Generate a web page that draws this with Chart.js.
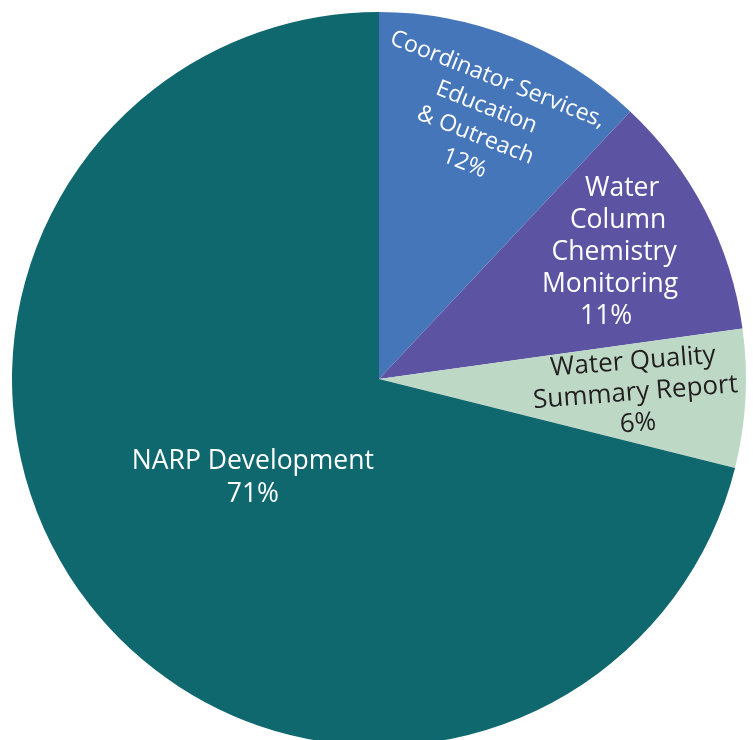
<!DOCTYPE html>
<html>
<head>
<meta charset="utf-8">
<script src="https://cdn.jsdelivr.net/npm/chart.js@4"></script>
<style>
html,body{margin:0;padding:0;background:#fff;overflow:hidden;}
#wrap{position:absolute;left:0;top:0;width:758px;height:758px;}
</style>
</head>
<body>
<div id="wrap"><canvas id="c"></canvas></div>
<script>
const categories = [
  ["Coordinator Services,", "Education", "& Outreach"],
  ["Water", "Column", "Chemistry", "Monitoring"],
  ["Water Quality", "Summary Report"],
  ["NARP Development"]
];
// slice sizes (printed labels are rounded)
const values = [12.0, 10.8, 6.1, 71.1];
const percentLabels = ["12%", "11%", "6%", "71%"];
const colors = ["#4676BA", "#5C54A3", "#BDD9C5", "#0F686E"];
const textColors = ["#FFFFFF", "#FFFFFF", "#231F20", "#FFFFFF"];

// label placement style: radial fraction, angle offset (deg), rotation, font size, line height, per-line shift
const labelStyle = [
  {r: 0.755, da: 0, rot: "tangent", size: 23, lh: 30, shear: 0},
  {r: 0.728, da: -1.0, rot: 0, size: 26.5, lh: 32, shear: -4},
  {r: 0.70, da: 0, rot: -4.5, size: 26, lh: 31, shear: 0},
  {r: 0.436, da: 0, rot: 0, size: 26.5, lh: 33, shear: 0}
];

const labelPlugin = {
  id: 'sliceLabels',
  afterDatasetsDraw(chart) {
    const ctx = chart.ctx;
    const meta = chart.getDatasetMeta(0);
    meta.data.forEach((arc, i) => {
      const p = arc.getProps(['x','y','startAngle','endAngle','outerRadius'], true);
      const st = labelStyle[i];
      const mid = (p.startAngle + p.endAngle) / 2 + st.da * Math.PI / 180;
      const r = p.outerRadius * st.r;
      const cx = p.x + Math.cos(mid) * r;
      const cy = p.y + Math.sin(mid) * r;
      let rot = 0;
      if (st.rot === "tangent") rot = (p.startAngle + p.endAngle) / 2 + Math.PI / 2;
      else rot = st.rot * Math.PI / 180;
      const lines = categories[i].concat([percentLabels[i]]);
      ctx.save();
      ctx.translate(cx, cy);
      ctx.rotate(rot);
      ctx.fillStyle = textColors[i];
      ctx.font = st.size + "px 'Open Sans'";
      ctx.textAlign = "center";
      ctx.textBaseline = "middle";
      const n = lines.length;
      lines.forEach((ln, k) => {
        const off = k - (n - 1) / 2;
        ctx.fillText(ln, off * st.shear, off * st.lh);
      });
      ctx.restore();
    });
  }
};

new Chart(document.getElementById('c'), {
  type: 'pie',
  data: {
    labels: categories.map(c => c.join(' ')),
    datasets: [{
      data: values,
      backgroundColor: colors,
      borderWidth: 0
    }]
  },
  options: {
    responsive: true,
    maintainAspectRatio: false,
    animation: false,
    layout: {padding: 12},
    plugins: {
      legend: {display: false},
      tooltip: {enabled: false}
    }
  },
  plugins: [labelPlugin]
});
</script>
</body>
</html>
